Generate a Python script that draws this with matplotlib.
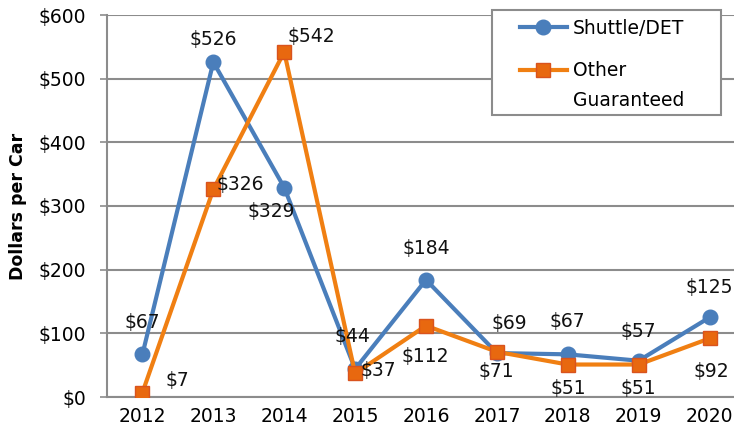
import matplotlib.pyplot as plt
from matplotlib.patches import Rectangle

years = ["2012", "2013", "2014", "2015", "2016", "2017", "2018", "2019", "2020"]
shuttle = [67, 526, 329, 44, 184, 69, 67, 57, 125]
other = [7, 326, 542, 37, 112, 71, 51, 51, 92]

# label offsets in pixels (dx, dy)
shuttle_off = [(0, 32), (0, 23), (-13, -24), (-3, 32), (0, 31), (12, 30), (0, 33), (0, 29), (0, 30)]
other_off = [(35, 12), (27, 5), (27, 15), (23, 3), (-1, -31), (-1, -20), (1, -24), (0, -24), (2, -33)]

BLUE = "#4A7EBB"
ORANGE = "#F07F12"
ORANGE_MK = "#E8680F"
GRID = "#8C8C8C"
FS = 13.5

plt.rcParams["font.family"] = ["DejaVu Sans"]

fig = plt.figure(figsize=(7.34, 4.37), dpi=100)
ax = fig.add_axes([107 / 734, 40 / 437, 638 / 734, 382 / 437])

x = list(range(len(years)))
ax.plot(x, shuttle, color=BLUE, lw=3.0, marker="o", ms=10.5,
        mfc=BLUE, mec=BLUE, label="Shuttle/DET", zorder=3)
ax.plot(x, other, color=ORANGE, lw=3.0, marker="s", ms=10,
        mfc=ORANGE_MK, mec="#D9531E", mew=1.0, label="Other", zorder=4)

px = 72 / 100
for xi, v, (dx, dy) in zip(x, shuttle, shuttle_off):
    ax.annotate(f"${v}", (xi, v), xytext=(dx * px, dy * px), textcoords="offset points",
                ha="center", va="center", fontsize=FS, color="#111111", zorder=6)
for xi, v, (dx, dy) in zip(x, other, other_off):
    ax.annotate(f"${v}", (xi, v), xytext=(dx * px, dy * px), textcoords="offset points",
                ha="center", va="center", fontsize=FS, color="#111111", zorder=6)

ax.set_xlim(-0.5, 8.5)
ax.set_ylim(0, 600)
ax.set_xticks(x)
ax.set_xticklabels(years, fontsize=FS)
ax.set_yticks(range(0, 601, 100))
ax.set_yticklabels([f"${v}" for v in range(0, 601, 100)], fontsize=FS)
ax.tick_params(axis="x", length=0, pad=7)
ax.tick_params(axis="y", length=5, color=GRID, width=1.2, pad=10)
ax.yaxis.grid(True, color=GRID, lw=1.5)
ax.set_axisbelow(True)
for s in ["top", "right"]:
    ax.spines[s].set_visible(False)
for s in ["left", "bottom"]:
    ax.spines[s].set_color(GRID)
    ax.spines[s].set_linewidth(1.5)

ax.set_ylabel("Dollars per Car", fontsize=12.5, fontweight="bold")
ax.yaxis.set_label_coords(-80 / 638, 0.5)

# legend frame drawn separately so the entries can sit inside it with their own padding
fig.patches.append(Rectangle((492 / 734, 1 - 115 / 437), 229 / 734, 105 / 437,
                             transform=fig.transFigure, facecolor="white",
                             edgecolor=GRID, lw=1.5, zorder=5))
leg = fig.legend(loc="upper left", bbox_to_anchor=(520 / 734, 1 - 19 / 437),
                 fontsize=FS, frameon=False, handlelength=2.5, labelspacing=1.25,
                 borderpad=0, borderaxespad=0, handletextpad=0.3)
leg.set_zorder(6)
# second line of the "Other Guaranteed" entry, handle stays on the first line
fig.text(573 / 734, 1 - 100 / 437, "Guaranteed", fontsize=FS, va="center", ha="left", zorder=7)

fig.savefig("out.png", dpi=100)
